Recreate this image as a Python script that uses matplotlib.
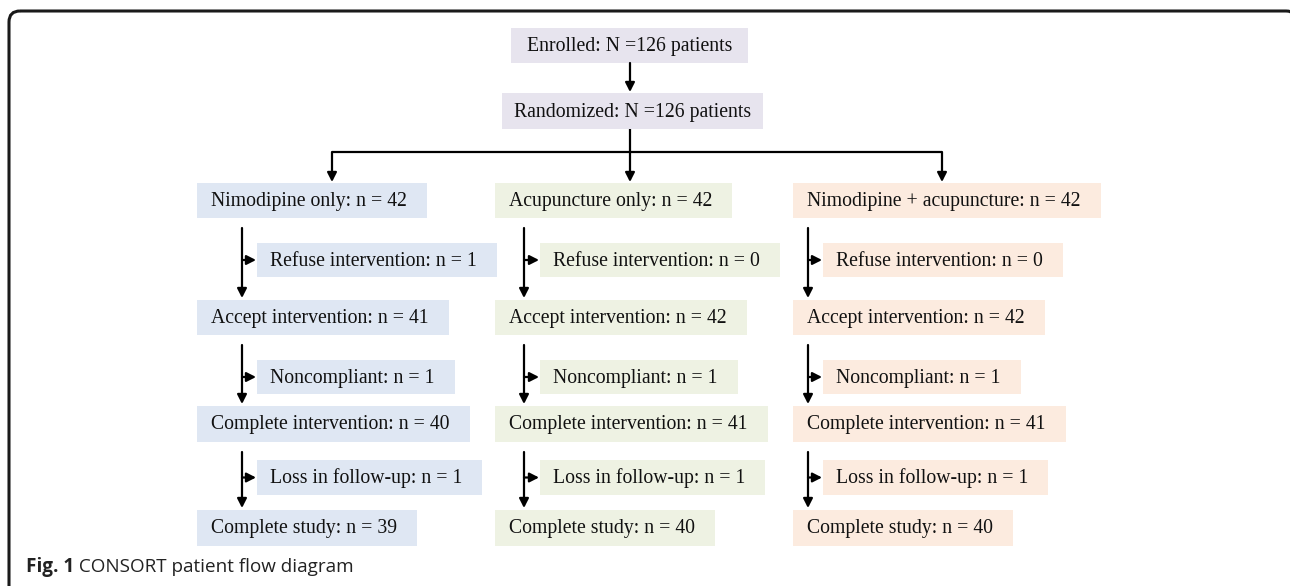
import matplotlib
matplotlib.use("Agg")
import matplotlib.pyplot as plt
from matplotlib.patches import FancyBboxPatch, Rectangle

# ---- content ----
top_labels = ["Enrolled: N =126 patients", "Randomized: N =126 patients"]
group_labels = ["Nimodipine only: n = 42", "Acupuncture only: n = 42", "Nimodipine + acupuncture: n = 42"]
refuse_n = [1, 0, 0]
accept_n = [41, 42, 42]
noncompliant_n = [1, 1, 1]
complete_int_n = [40, 41, 41]
loss_n = [1, 1, 1]
complete_study_n = [39, 40, 40]
caption_bold = "Fig. 1"
caption_text = " CONSORT patient flow diagram"

# ---- styling / layout ----
W, H = 1290, 586
col_colors = ["#dfe7f3", "#eef2e3", "#fcebdf"]
top_color = "#e7e4ee"
serif = ["Liberation Serif", "DejaVu Serif"]
FS = 14.2

col_x = [197, 495, 793]          # main box left
arrow_x = [242, 524, 808]        # vertical arrow x
sub_x = [257, 540, 823]          # side box left
rows_y = [(183, 218), (243, 277), (300, 335), (360, 394), (406, 442), (460, 495), (510, 546)]

fig = plt.figure(figsize=(W / 100, H / 100), dpi=100)
ax = fig.add_axes([0, 0, 1, 1])
ax.set_xlim(0, W)
ax.set_ylim(H, 0)
ax.axis("off")

# frame
frame = FancyBboxPatch((9, 11), 1288, 640, boxstyle="round,pad=0,rounding_size=11",
                       fc="none", ec="#1a1a1a", lw=2.2, clip_on=False)
ax.add_patch(frame)
fig.canvas.draw()
renderer = fig.canvas.get_renderer()
inv = ax.transData.inverted()


def box(x0, y0, y1, color, text, pad=14, pad_r=20, x1=None, center=False):
    cy = (y0 + y1) / 2 + 1
    t = ax.text(x0 + pad, cy, text, ha="left", va="center",
                fontsize=FS, family=serif, color="#111111", zorder=3)
    bb = t.get_window_extent(renderer)
    tx1 = inv.transform((bb.x1, 0))[0]
    if x1 is None:
        x1 = tx1 + pad_r
    if center:
        t.set_ha("center")
        t.set_x((x0 + x1) / 2)
    ax.add_patch(Rectangle((x0, y0), x1 - x0, y1 - y0, fc=color, ec="none", zorder=1))


def arrow(x0, y0, x1, y1):
    ax.annotate("", xy=(x1, y1), xytext=(x0, y0),
                arrowprops=dict(arrowstyle="-|>,head_length=0.55,head_width=0.28",
                                lw=1.6, color="black", shrinkA=0, shrinkB=0))


def line(xs, ys):
    ax.plot(xs, ys, color="black", lw=1.6, solid_capstyle="butt")


# top boxes
box(511, 28, 63, top_color, top_labels[0], x1=748, center=True)
box(502, 93, 129, top_color, top_labels[1], x1=763, center=True)
arrow(630, 63, 630, 92)
line([630, 630], [129, 152])
drops = [332, 630, 942]
line([drops[0], drops[2]], [152, 152])
for d in drops:
    arrow(d, 152, d, 182)

for c in range(3):
    labels = [
        group_labels[c],
        f"Refuse intervention: n = {refuse_n[c]}",
        f"Accept intervention: n = {accept_n[c]}",
        f"Noncompliant: n = {noncompliant_n[c]}",
        f"Complete intervention: n = {complete_int_n[c]}",
        f"Loss in follow-up: n = {loss_n[c]}",
        f"Complete study: n = {complete_study_n[c]}",
    ]
    for r, lab in enumerate(labels):
        y0, y1 = rows_y[r]
        side = r in (1, 3, 5)
        x0 = sub_x[c] if side else col_x[c]
        box(x0, y0, y1, col_colors[c], lab, pad=13 if side else 14)
    ax_ = arrow_x[c]
    for (top_r, side_r, bot_r) in [(0, 1, 2), (2, 3, 4), (4, 5, 6)]:
        ys = rows_y[top_r][1] + 10
        ye = rows_y[bot_r][0] - 2
        arrow(ax_, ys, ax_, ye)
        yc = (rows_y[side_r][0] + rows_y[side_r][1]) / 2
        arrow(ax_, yc, sub_x[c] - 1, yc)

# caption
t = ax.text(26, 567, caption_bold, ha="left", va="center", fontsize=13.6,
            family=["Open Sans", "DejaVu Sans"], fontweight="bold", color="#222222")
bb = t.get_window_extent(renderer)
x_end = inv.transform((bb.x1, 0))[0]
ax.text(x_end, 567, caption_text, ha="left", va="center", fontsize=13.6,
        family=["Open Sans", "DejaVu Sans"], color="#222222")

fig.savefig("out.png", dpi=100)
